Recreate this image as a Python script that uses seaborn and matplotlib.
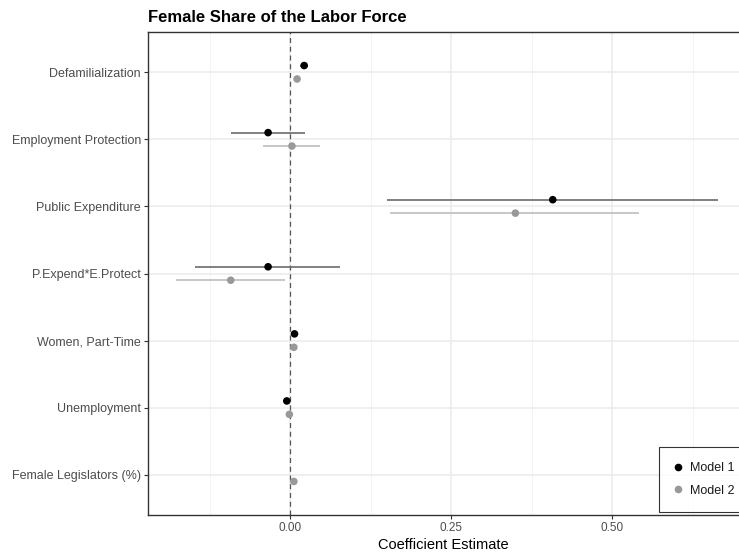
import numpy as np
import pandas as pd
import matplotlib
matplotlib.use("Agg")
import matplotlib.pyplot as plt
from matplotlib.lines import Line2D
import seaborn as sns

# Coefficient estimates and 95% intervals for the two models
terms = ["Defamilialization", "Employment Protection", "Public Expenditure",
         "P.Expend*E.Protect", "Women, Part-Time", "Unemployment",
         "Female Legislators (%)"]

m1_est = [0.022, -0.034, 0.408, -0.034, 0.007, -0.005, np.nan]
m1_lo = [0.016, -0.092, 0.151, -0.148, 0.004, -0.008, np.nan]
m1_hi = [0.028, 0.023, 0.665, 0.078, 0.010, -0.002, np.nan]

m2_est = [0.011, 0.003, 0.350, -0.092, 0.006, -0.001, 0.006]
m2_lo = [0.008, -0.042, 0.156, -0.177, 0.004, -0.003, 0.004]
m2_hi = [0.014, 0.047, 0.542, -0.007, 0.008, 0.001, 0.008]

models = ["Model 1", "Model 2"]

rows = []
for model, est, lo, hi in [("Model 1", m1_est, m1_lo, m1_hi),
                           ("Model 2", m2_est, m2_lo, m2_hi)]:
    for t, e, l, h in zip(terms, est, lo, hi):
        rows.append({"term": t, "model": model, "estimate": e, "lo": l, "hi": h})
df = pd.DataFrame(rows).dropna()

offsets = {"Model 1": -0.1, "Model 2": 0.1}
df["ypos"] = df["term"].map({t: i for i, t in enumerate(terms)}) + df["model"].map(offsets)

point_colors = {"Model 1": "#000000", "Model 2": "#999999"}
bar_colors = {"Model 1": "#6b6b6b", "Model 2": "#bdbdbd"}

sns.set_theme(style="white")
plt.rcParams["font.family"] = ["Liberation Sans", "DejaVu Sans"]

fig = plt.figure(figsize=(7.39, 5.55), dpi=100)
ax = fig.add_axes([148 / 739, 1 - 515 / 555, 1 - 148 / 739, (515 - 32) / 555])

# grid
for x in [-0.125, 0.125, 0.375, 0.625]:
    ax.axvline(x, color="#f2f2f2", lw=0.6, zorder=0)
for x in [0.0, 0.25, 0.5]:
    ax.axvline(x, color="#ebebeb", lw=1.1, zorder=0)
for i in range(len(terms)):
    ax.axhline(i, color="#ebebeb", lw=1.1, zorder=0)

ax.axvline(0, color="#555555", lw=0.9, ls=(0, (4, 3)), zorder=1)

for model in models:
    sub = df[df["model"] == model]
    ax.hlines(sub["ypos"], sub["lo"], sub["hi"], color=bar_colors[model],
              lw=1.2, zorder=2)

sns.scatterplot(data=df, x="estimate", y="ypos", hue="model", palette=point_colors,
                s=30, linewidth=0, zorder=3, ax=ax, legend=False)

ax.set_xlim((148 - 290) / 644, (739 - 290) / 644)
ax.set_ylim(len(terms) - 0.4, -0.6)
ax.set_yticks(range(len(terms)))
ax.set_yticklabels(terms)
ax.set_xticks([0.0, 0.25, 0.5])
ax.set_xticklabels(["0.00", "0.25", "0.50"])
ax.tick_params(axis="y", which="major", labelsize=9, labelcolor="#4d4d4d",
               color="#333333", length=3, width=0.8, pad=2, left=True)
ax.tick_params(axis="x", which="major", labelsize=8.5, labelcolor="#4d4d4d",
               color="#333333", length=3, width=0.8, pad=2, bottom=True)
ax.set_xlabel("Coefficient Estimate", fontsize=10.5, color="#000000", labelpad=3)
ax.set_ylabel("")

for side in ["left", "bottom", "top"]:
    ax.spines[side].set_visible(True)
    ax.spines[side].set_color("#333333")
    ax.spines[side].set_linewidth(1.0)
ax.spines["right"].set_visible(False)

fig.text(148 / 739, 1 - 17 / 555, "Female Share of the Labor Force", fontsize=12,
         fontweight="bold", ha="left", va="center", color="#000000")

handles = [Line2D([], [], marker="o", ls="", color=point_colors[m], markersize=5.5,
                  markeredgewidth=0) for m in models]
leg = fig.legend(handles, models, loc="upper left",
                 bbox_to_anchor=(659 / 739, 1 - 447 / 555), frameon=True,
                 fontsize=9, handletextpad=0.7, borderpad=1.2, labelspacing=0.84,
                 handlelength=0.6, fancybox=False, borderaxespad=0)
leg.get_frame().set_edgecolor("#000000")
leg.get_frame().set_linewidth(0.8)
for txt in leg.get_texts():
    txt.set_color("#1a1a1a")

fig.savefig("out.png", dpi=100)
